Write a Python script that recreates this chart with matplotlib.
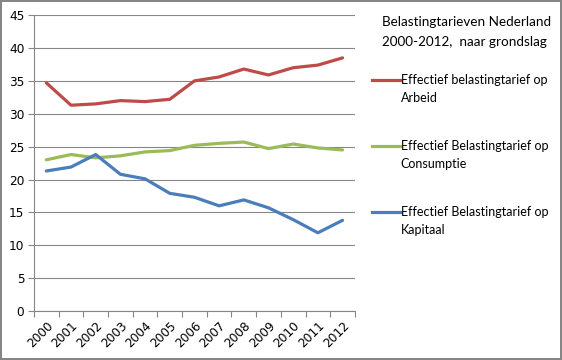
import numpy as np
import matplotlib
matplotlib.use("Agg")
import matplotlib.pyplot as plt
from matplotlib.lines import Line2D

# data
years = ["2000", "2001", "2002", "2003", "2004", "2005", "2006",
         "2007", "2008", "2009", "2010", "2011", "2012"]
arbeid = [34.7, 31.3, 31.5, 32.0, 31.85, 32.2, 35.0, 35.6, 36.8, 35.9, 37.0, 37.4, 38.5]
consumptie = [23.0, 23.8, 23.3, 23.6, 24.2, 24.4, 25.2, 25.5, 25.7, 24.7, 25.4, 24.8, 24.5]
kapitaal = [21.3, 21.9, 23.8, 20.8, 20.1, 17.9, 17.3, 16.0, 16.9, 15.7, 13.9, 11.9, 13.8]

title = "Belastingtarieven Nederland\n2000-2012,  naar grondslag"
labels = ["Effectief belastingtarief op\nArbeid",
          "Effectief Belastingtarief op\nConsumptie",
          "Effectief Belastingtarief op\nKapitaal"]
colours = ["#BE4B48", "#9BBB59", "#4A7EBB"]
grey = "#868686"

fig = plt.figure(figsize=(5.62, 3.6), dpi=100)
fig.patch.set_edgecolor(grey)
fig.patch.set_linewidth(1.5)
ax = fig.add_axes([0.0605, 0.136, 0.571, 0.822])

x = np.arange(len(years))
for series, col in zip([arbeid, consumptie, kapitaal], colours):
    ax.plot(x, series, color=col, lw=2.3, solid_capstyle="round", zorder=3)

ax.set_xlim(-0.5, len(years) - 0.5)
ax.set_ylim(0, 45)
ax.set_yticks(range(0, 46, 5))
ax.yaxis.grid(True, color=grey, lw=0.8)
ax.set_axisbelow(True)

ax.set_xticks(x)
ax.set_xticklabels(years, rotation=45, ha="right", rotation_mode="anchor")
ax.set_xticks(np.arange(-0.5, len(years), 1), minor=True)
ax.tick_params(axis="x", which="major", length=0, pad=6, labelsize=8.7)
ax.tick_params(axis="x", which="minor", length=4, color=grey, width=0.8)
ax.tick_params(axis="y", length=4, color=grey, width=0.8, labelsize=8.7, pad=3)

for s in ["top", "right"]:
    ax.spines[s].set_visible(False)
for s in ["left", "bottom"]:
    ax.spines[s].set_color(grey)
    ax.spines[s].set_linewidth(0.8)

# legend drawn by hand to match the layout
fig.text(0.680, 0.911, title, fontsize=9.7, family="Lato", va="center",
         linespacing=1.75)
ys = [0.777, 0.594, 0.411]
for yy, lab, col in zip(ys, labels, colours):
    fig.add_artist(Line2D([0.662, 0.712], [yy, yy], color=col, lw=2.3,
                          transform=fig.transFigure))
    fig.text(0.713, yy + 0.018, lab, fontsize=9, family="Lato", va="top",
             linespacing=1.6)

fig.savefig("out.png", dpi=100, edgecolor=fig.get_edgecolor())
